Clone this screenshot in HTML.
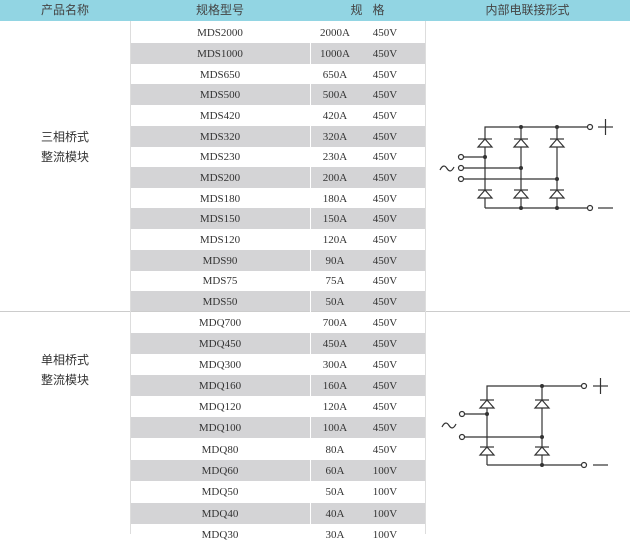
<!DOCTYPE html>
<html><head><meta charset="utf-8"><style>
body{margin:0;width:630px;height:534px;overflow:hidden;background:#fff;position:relative;font-family:"Liberation Serif","Noto Serif CJK SC",serif;color:#333}
.hd{position:absolute;left:0;top:0;width:630px;height:21px;background:#92d5e3}
.h{position:absolute;top:0;height:21px;line-height:21px;font-size:12px;font-family:"Liberation Sans","Noto Sans CJK SC",sans-serif;color:#444;text-align:center}
.r{position:absolute;left:130px;width:295px;height:21px;font-size:11px;line-height:23px}
.g{background:#d4d4d6}
.r span{position:absolute;text-align:center}
.m{left:0;width:180px}
.a{left:180px;width:50px}
.v{left:230px;width:50px}
.vl{position:absolute;left:310px;width:1px;background:#fff;top:21px;height:513px}
.vl2{position:absolute;width:1px;background:#ddd;top:21px;height:513px}
.name{position:absolute;left:0;width:130px;text-align:center;font-size:12px;line-height:20px;font-family:"Liberation Sans","Noto Sans CJK SC",sans-serif}
</style></head><body>
<div class="hd"></div>
<div class="h" style="left:0;width:130px">产品名称</div>
<div class="h" style="left:130px;width:180px">规格型号</div>
<div class="h" style="left:310px;width:115px">规&nbsp;&nbsp;&nbsp;格</div>
<div class="h" style="left:425px;width:205px">内部电联接形式</div>

<div class="r" style="top:22px"><span class="m">MDS2000</span><span class="a">2000A</span><span class="v">450V</span></div>
<div class="r g" style="top:43px"><span class="m">MDS1000</span><span class="a">1000A</span><span class="v">450V</span></div>
<div class="r" style="top:64px"><span class="m">MDS650</span><span class="a">650A</span><span class="v">450V</span></div>
<div class="r g" style="top:84px"><span class="m">MDS500</span><span class="a">500A</span><span class="v">450V</span></div>
<div class="r" style="top:105px"><span class="m">MDS420</span><span class="a">420A</span><span class="v">450V</span></div>
<div class="r g" style="top:126px"><span class="m">MDS320</span><span class="a">320A</span><span class="v">450V</span></div>
<div class="r" style="top:146px"><span class="m">MDS230</span><span class="a">230A</span><span class="v">450V</span></div>
<div class="r g" style="top:167px"><span class="m">MDS200</span><span class="a">200A</span><span class="v">450V</span></div>
<div class="r" style="top:188px"><span class="m">MDS180</span><span class="a">180A</span><span class="v">450V</span></div>
<div class="r g" style="top:208px"><span class="m">MDS150</span><span class="a">150A</span><span class="v">450V</span></div>
<div class="r" style="top:229px"><span class="m">MDS120</span><span class="a">120A</span><span class="v">450V</span></div>
<div class="r g" style="top:250px"><span class="m">MDS90</span><span class="a">90A</span><span class="v">450V</span></div>
<div class="r" style="top:270px"><span class="m">MDS75</span><span class="a">75A</span><span class="v">450V</span></div>
<div class="r g" style="top:291px"><span class="m">MDS50</span><span class="a">50A</span><span class="v">450V</span></div>
<div style="position:absolute;left:0;top:311px;width:630px;height:1px;background:#ccc"></div>
<div class="r" style="top:312px"><span class="m">MDQ700</span><span class="a">700A</span><span class="v">450V</span></div>
<div class="r g" style="top:333px"><span class="m">MDQ450</span><span class="a">450A</span><span class="v">450V</span></div>
<div class="r" style="top:354px"><span class="m">MDQ300</span><span class="a">300A</span><span class="v">450V</span></div>
<div class="r g" style="top:375px"><span class="m">MDQ160</span><span class="a">160A</span><span class="v">450V</span></div>
<div class="r" style="top:396px"><span class="m">MDQ120</span><span class="a">120A</span><span class="v">450V</span></div>
<div class="r g" style="top:417px"><span class="m">MDQ100</span><span class="a">100A</span><span class="v">450V</span></div>
<div class="r" style="top:439px"><span class="m">MDQ80</span><span class="a">80A</span><span class="v">450V</span></div>
<div class="r g" style="top:460px"><span class="m">MDQ60</span><span class="a">60A</span><span class="v">100V</span></div>
<div class="r" style="top:481px"><span class="m">MDQ50</span><span class="a">50A</span><span class="v">100V</span></div>
<div class="r g" style="top:503px"><span class="m">MDQ40</span><span class="a">40A</span><span class="v">100V</span></div>
<div class="r" style="top:524px"><span class="m">MDQ30</span><span class="a">30A</span><span class="v">100V</span></div>
<div class="vl"></div>
<div class="vl2" style="left:130px"></div>
<div class="vl2" style="left:425px"></div>
<div class="name" style="top:127px">三相桥式<br>整流模块</div>
<div class="name" style="top:350px">单相桥式<br>整流模块</div>

<svg style="position:absolute;left:0;top:0" width="630" height="534" stroke="#333" stroke-width="1.2" fill="none">
<defs>
<g id="d"><line x1="-7" y1="0" x2="7" y2="0"/><polygon points="0,0 -7,8 7,8"/></g>
</defs>
<polyline points="485,208 485,127 587,127"/>
<line x1="521" y1="127" x2="521" y2="208"/><line x1="557" y1="127" x2="557" y2="208"/>
<line x1="485" y1="208" x2="587" y2="208"/>
<line x1="464" y1="157" x2="485" y2="157"/><line x1="464" y1="168" x2="521" y2="168"/><line x1="464" y1="179" x2="557" y2="179"/>
<g fill="#fff"><use href="#d" x="485" y="139"/><use href="#d" x="521" y="139"/><use href="#d" x="557" y="139"/>
<use href="#d" x="485" y="190"/><use href="#d" x="521" y="190"/><use href="#d" x="557" y="190"/>
<circle cx="461" cy="157" r="2.5"/><circle cx="461" cy="168" r="2.5"/><circle cx="461" cy="179" r="2.5"/>
<circle cx="590" cy="127" r="2.5"/><circle cx="590" cy="208" r="2.5"/></g>
<g fill="#333" stroke="none"><circle cx="521" cy="127" r="2"/><circle cx="557" cy="127" r="2"/><circle cx="521" cy="208" r="2"/><circle cx="557" cy="208" r="2"/>
<circle cx="485" cy="157" r="2"/><circle cx="521" cy="168" r="2"/><circle cx="557" cy="179" r="2"/></g>
<line x1="598" y1="127" x2="613" y2="127"/><line x1="605.5" y1="119" x2="605.5" y2="135"/><line x1="598" y1="208" x2="613" y2="208"/>
<path d="M440 170 q3.5 -7 7 -1.5 q3.5 5.5 7 -1.5"/>
<polyline points="487,465 487,386 582,386"/>
<line x1="542" y1="386" x2="542" y2="465"/>
<line x1="487" y1="465" x2="582" y2="465"/>
<line x1="465" y1="414" x2="487" y2="414"/><line x1="465" y1="437" x2="542" y2="437"/>
<g fill="#fff"><use href="#d" x="487" y="400"/><use href="#d" x="542" y="400"/><use href="#d" x="487" y="447"/><use href="#d" x="542" y="447"/>
<circle cx="462" cy="414" r="2.5"/><circle cx="462" cy="437" r="2.5"/><circle cx="584" cy="386" r="2.5"/><circle cx="584" cy="465" r="2.5"/></g>
<g fill="#333" stroke="none"><circle cx="542" cy="386" r="2"/><circle cx="542" cy="465" r="2"/><circle cx="487" cy="414" r="2"/><circle cx="542" cy="437" r="2"/></g>
<line x1="593" y1="386" x2="608" y2="386"/><line x1="600.5" y1="378" x2="600.5" y2="394"/><line x1="593" y1="465" x2="608" y2="465"/>
<path d="M442 427 q3.5 -7 7 -1.5 q3.5 5.5 7 -1.5"/>
</svg>
</body></html>
